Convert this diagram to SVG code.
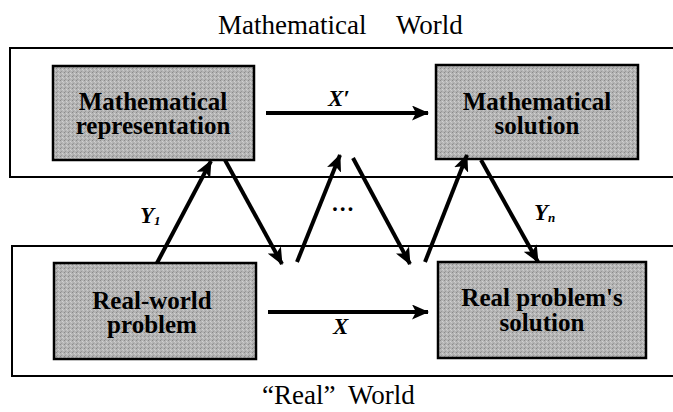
<svg xmlns="http://www.w3.org/2000/svg" width="673" height="412" viewBox="0 0 673 412">
<defs>
<marker id="ah" markerUnits="userSpaceOnUse" markerWidth="17" markerHeight="15" viewBox="0 0 17 15" refX="16" refY="7.5" orient="auto">
<path d="M0,0 L17,7.5 L0,15 L4,7.5 z" fill="#000"/>
</marker>
<pattern id="noise" width="4" height="4" patternUnits="userSpaceOnUse">
<rect width="4" height="4" fill="#b4b4b4"/>
<rect x="0" y="0" width="1" height="1" fill="#8a8a8a"/>
<rect x="2" y="1" width="1" height="1" fill="#d2d2d2"/>
<rect x="1" y="3" width="1" height="1" fill="#999"/>
<rect x="3" y="2" width="1" height="1" fill="#cacaca"/>
</pattern>
</defs>
<style>
.world{fill:none;stroke:#000;stroke-width:2}
.box{fill:url(#noise);stroke:#000;stroke-width:2.5}
text{font-family:'Liberation Serif','DejaVu Serif',serif;fill:#000}
.bt{font-weight:bold;font-size:25px;text-anchor:middle}
.title{font-size:27px}
.lab{font-weight:bold;font-style:italic;font-size:23px}
.con{stroke:#000;stroke-width:4;fill:none;marker-end:url(#ah)}
</style>
<rect width="673" height="412" fill="#fff"/>
<g id="worlds">
<rect class="world" x="10" y="48" width="700" height="129"/>
<rect class="world" x="12" y="246" width="700" height="130"/>
<text class="title" x="218" y="34">Mathematical<tspan x="396">World</tspan></text>
<text class="title" x="262" y="404">“Real”<tspan x="348">World</tspan></text>
</g>
<g id="math-rep">
<rect class="box" x="53" y="66" width="201" height="94"/>
<text class="bt" x="153" y="110">Mathematical<tspan x="153" y="134">representation</tspan></text>
</g>
<g id="math-sol">
<rect class="box" x="436" y="65" width="202" height="94"/>
<text class="bt" x="537" y="110">Mathematical<tspan x="537" y="134">solution</tspan></text>
</g>
<g id="real-prob">
<rect class="box" x="54" y="263" width="202" height="96"/>
<text class="bt" x="152" y="309">Real-world<tspan x="152" y="333">problem</tspan></text>
</g>
<g id="real-sol">
<rect class="box" x="438" y="262" width="208" height="96"/>
<text class="bt" x="542" y="306">Real problem's<tspan x="542" y="331">solution</tspan></text>
</g>
<g id="connectors">
<line class="con" x1="266" y1="113" x2="428" y2="113"/>
<line class="con" x1="268" y1="312" x2="428" y2="312"/>
<line class="con" x1="157" y1="263" x2="211" y2="161"/>
<line class="con" x1="225" y1="160" x2="282" y2="264"/>
<line class="con" x1="297" y1="262" x2="340" y2="155"/>
<line class="con" x1="353" y1="158" x2="410" y2="264"/>
<line class="con" x1="425" y1="262" x2="467" y2="155"/>
<line class="con" x1="481" y1="160" x2="538" y2="262"/>
<text class="lab" x="328" y="106">X′</text>
<text class="lab" x="333" y="334">X</text>
<text class="lab" x="140" y="223">Y<tspan font-size="13" dy="2">1</tspan></text>
<text class="lab" x="534" y="220">Y<tspan font-size="13" dy="2">n</tspan></text>
<text class="lab" x="332" y="211" font-style="normal">…</text>
</g>
</svg>
